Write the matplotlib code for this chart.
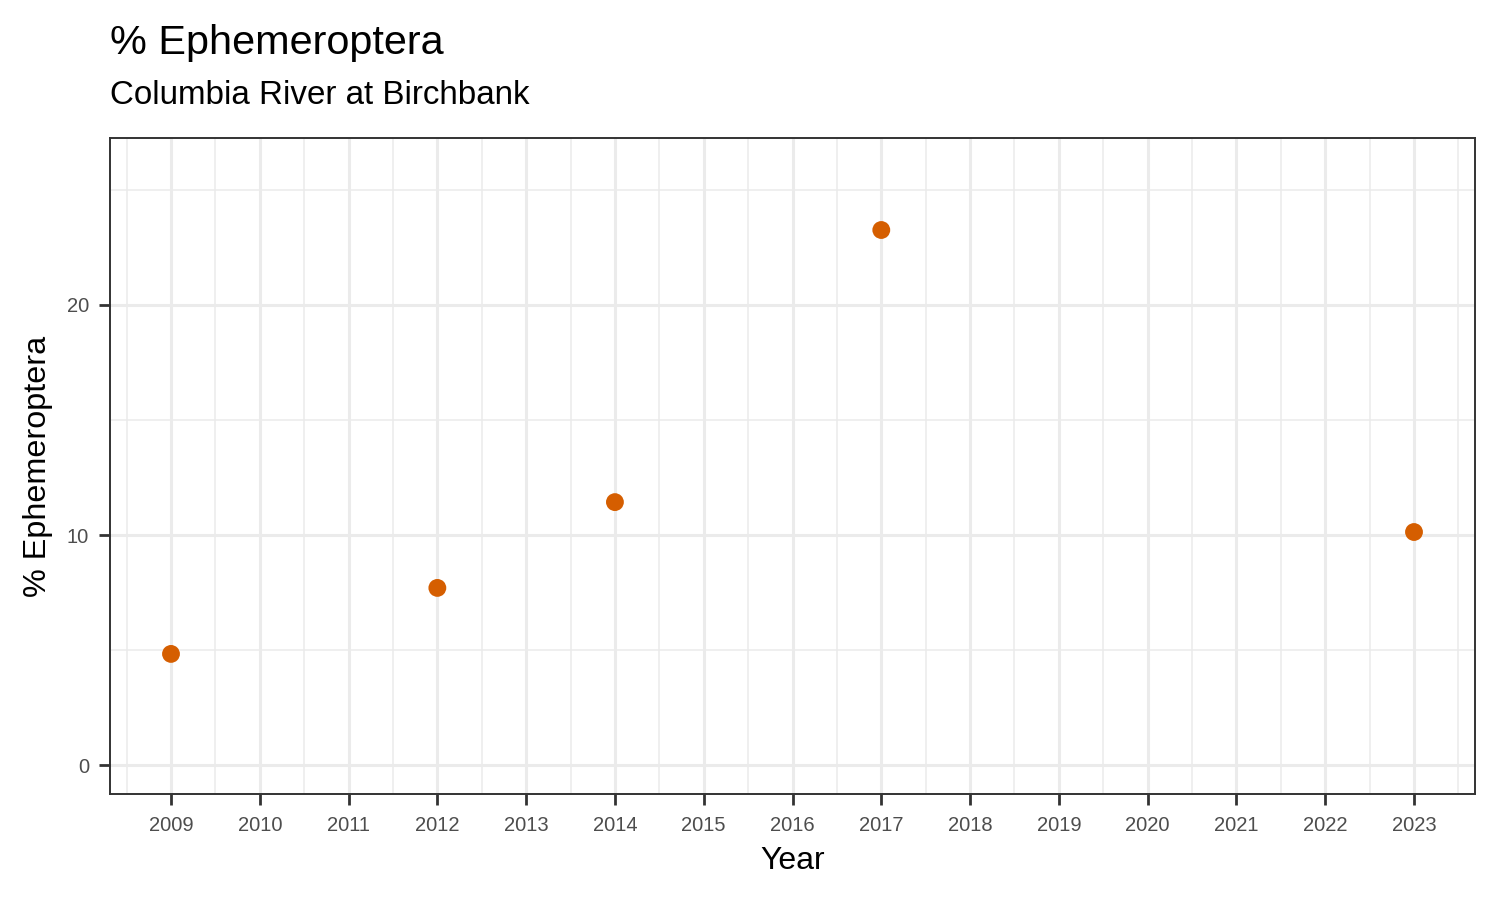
import matplotlib
matplotlib.use("Agg")
import matplotlib.pyplot as plt
from matplotlib.ticker import MultipleLocator

plt.rcParams['font.family'] = ['Liberation Sans', 'DejaVu Sans']

years = [2009, 2012, 2014, 2017, 2023]
pct_ephem = [4.83, 7.70, 11.43, 23.26, 10.13]
year_ticks = list(range(2009, 2024))
title = "% Ephemeroptera"
subtitle = "Columbia River at Birchbank"

fig = plt.figure(figsize=(15, 9), dpi=100)
ax = fig.add_axes([110/1500, 1 - 794/900, 1365/1500, 656/900])

ax.scatter(years, pct_ephem, s=165, color='#D55E00', edgecolors='none', zorder=3)

ax.set_xlim(2008.313, 2023.687)
ax.set_ylim(-1.26, 27.26)
ax.set_xticks(year_ticks)
ax.set_xticklabels([str(y) for y in year_ticks])
ax.xaxis.set_minor_locator(MultipleLocator(0.5))
ax.set_yticks([0, 10, 20])
ax.yaxis.set_minor_locator(MultipleLocator(5))

ax.grid(which='major', color='#EBEBEB', linewidth=2.2, zorder=0)
ax.grid(which='minor', color='#EBEBEB', linewidth=1.1, zorder=0)
ax.set_axisbelow(True)
ax.tick_params(which='minor', length=0)
ax.tick_params(which='major', length=8, width=2.0, color='#333333',
               labelcolor='#4D4D4D', labelsize=14.5)
ax.tick_params(axis='x', which='major', pad=8)
ax.tick_params(axis='y', which='major', pad=7)
for sp in ax.spines.values():
    sp.set_color('#333333')
    sp.set_linewidth(1.4)

fig.text(110/1500, 1 - 54/900, title, fontsize=29.8, va='baseline', ha='left')
fig.text(110/1500, 1 - 104/900, subtitle, fontsize=23.9, va='baseline', ha='left')
fig.text(792.5/1500, 1 - 869/900, "Year", fontsize=23, va='baseline', ha='center')
fig.text(38/1500, 1 - 466/900, "% Ephemeroptera", fontsize=23.3, va='center',
         ha='center', rotation=90)

fig.savefig("out.png", dpi=100)
